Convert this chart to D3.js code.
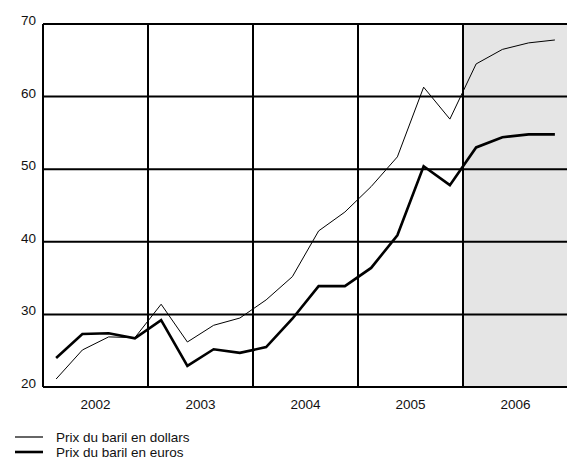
<!DOCTYPE html>
<html><head><meta charset="utf-8">
<script src="https://cdn.jsdelivr.net/npm/d3@7"></script>
<style>body{margin:0;background:#fff}text{font-family:"Liberation Sans",Arial,sans-serif;fill:#111}</style>
</head><body><div id="chart"></div>
<script>
var years = ["2002", "2003", "2004", "2005", "2006"];
var quarters = ["T1", "T2", "T3", "T4"];
var dollars = [21.1, 25.1, 26.9, 26.8, 31.4, 26.2, 28.5, 29.5, 32.0, 35.2, 41.5, 44.1, 47.6, 51.7, 61.3, 56.9, 64.5, 66.5, 67.4, 67.8];
var euros = [24.0, 27.3, 27.4, 26.7, 29.2, 22.9, 25.2, 24.7, 25.5, 29.4, 33.9, 33.9, 36.4, 40.9, 50.4, 47.8, 53.0, 54.4, 54.8, 54.8];
var yTicks = [20, 30, 40, 50, 60, 70];
var forecastYear = "2006";

var width = 567, height = 463;
var plotLeft = 43, plotRight = 568, plotTop = 24, plotBottom = 387;

var svg = d3.select("#chart").append("svg").attr("width", width).attr("height", height);

var periods = [];
years.forEach(function(y){ quarters.forEach(function(q){ periods.push(y + q); }); });

var xYear = d3.scaleBand().domain(years).range([plotLeft, plotRight]);
var x = d3.scalePoint().domain(periods).range([plotLeft, plotRight]).padding(0.5);
var y = d3.scaleLinear().domain([20, 70]).range([plotBottom, plotTop]);

// shaded forecast area
svg.append("rect")
    .attr("x", xYear(forecastYear)).attr("y", plotTop)
    .attr("width", width - xYear(forecastYear)).attr("height", plotBottom - plotTop)
    .attr("fill", "#e5e5e5");

// horizontal grid
svg.selectAll(".hg").data(yTicks).enter().append("line")
    .attr("x1", plotLeft).attr("x2", width)
    .attr("y1", function(d){ return y(d); }).attr("y2", function(d){ return y(d); })
    .attr("stroke", "#000").attr("stroke-width", 2);

// vertical grid at year starts
svg.selectAll(".vg").data(years).enter().append("line")
    .attr("x1", function(d){ return xYear(d); }).attr("x2", function(d){ return xYear(d); })
    .attr("y1", plotTop).attr("y2", plotBottom)
    .attr("stroke", "#000").attr("stroke-width", 2);

svg.selectAll(".yl").data(yTicks).enter().append("text")
    .attr("x", 36).attr("y", function(d){ return y(d) + 1; })
    .attr("text-anchor", "end").attr("font-size", 13.5)
    .text(function(d){ return d; });

svg.selectAll(".xl").data(years).enter().append("text")
    .attr("x", function(d){ return xYear(d) + xYear.bandwidth() / 2; })
    .attr("y", 409).attr("text-anchor", "middle").attr("font-size", 13.5)
    .text(function(d){ return d; });

var line = d3.line().x(function(d, i){ return x(periods[i]); }).y(function(d){ return y(d); });

svg.append("path").attr("d", line(dollars)).attr("fill", "none")
    .attr("stroke", "#000").attr("stroke-width", 1);
svg.append("path").attr("d", line(euros)).attr("fill", "none")
    .attr("stroke", "#000").attr("stroke-width", 2.6);

// legend
var legend = [["Prix du baril en dollars", 1.2], ["Prix du baril en euros", 2.6]];
legend.forEach(function(l, i){
    var ly = 437 + i * 15;
    svg.append("line").attr("x1", 15).attr("x2", 43).attr("y1", ly).attr("y2", ly)
        .attr("stroke", "#000").attr("stroke-width", l[1]);
    svg.append("text").attr("x", 56).attr("y", ly + 5).attr("font-size", 13.5).text(l[0]);
});
</script></body></html>
